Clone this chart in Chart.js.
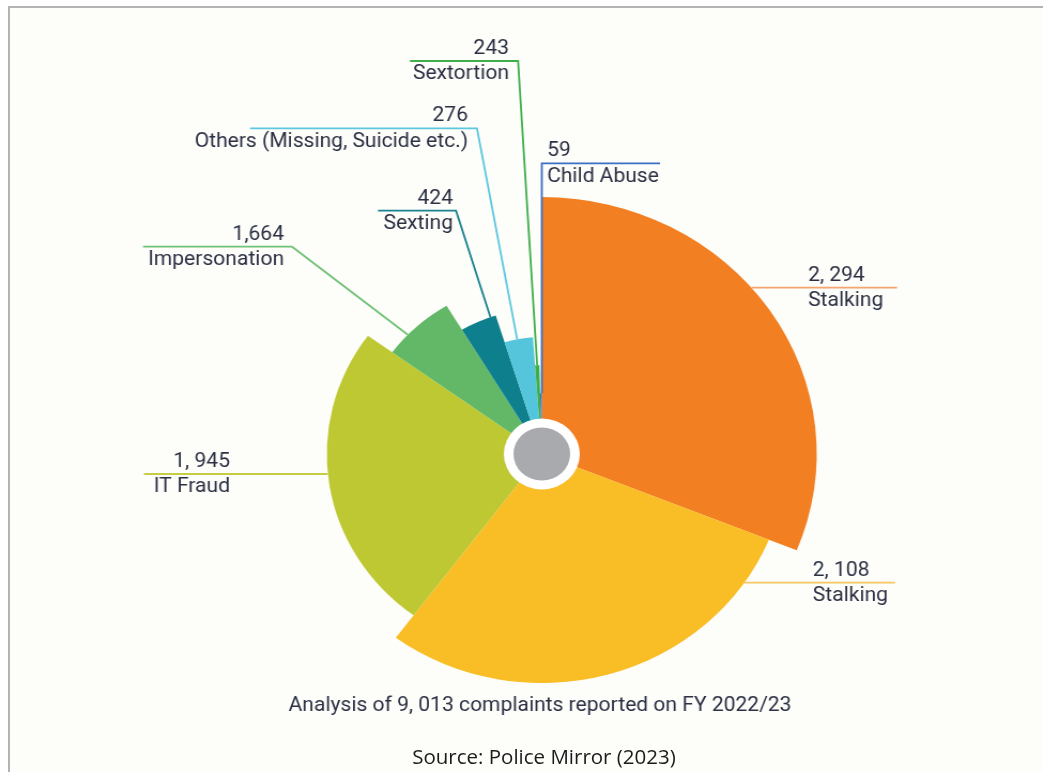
<!DOCTYPE html>
<html>
<head>
<meta charset="utf-8">
<script src="https://cdn.jsdelivr.net/npm/chart.js@4"></script>
<style>
  html, body { margin: 0; padding: 0; background: #fff; }
  body { width: 1043px; height: 772px; position: relative; overflow: hidden; }
  #frame {
    position: absolute; left: 8px; top: 6px; right: 0; bottom: 0;
    border-top: 2px solid #b3b3b3; border-left: 2px solid #b3b3b3;
    background: #fdfdf9;
  }
  #chart {
    position: absolute; left: 0; top: 0;
    width: 975px; height: 772px;
    transform: scaleX(1.0697); transform-origin: 0 0;
  }
  #source {
    position: absolute; left: 0; width: 1088px; top: 742px;
    text-align: center; font: 20.5px "Open Sans", sans-serif; color: #1b1b1b;
  }
</style>
</head>
<body>
<div id="frame"></div>
<canvas id="chart" width="975" height="772"></canvas>
<div id="source">Source: Police Mirror (2023)</div>

<script>
// complaints by type, FY 2022/23
const categories = ["Stalking", "Stalking", "IT Fraud", "Impersonation", "Sexting",
  "Others (Missing, Suicide etc.)", "Sextortion", "Child Abuse"];
const complaints = [2294, 2108, 1945, 1664, 424, 276, 243, 59];
const valueText = ["2, 294", "2, 108", "1, 945", "1,664", "424", "276", "243", "59"];
// slice length (% of the longest) and sweep (degrees) as drawn in the original
const sliceLength = [100, 89.1, 78.2, 67.3, 56.4, 45.5, 34.6, 23.7];
const sliceAngle = [112, 104.6, 89.4, 23, 13.7, 13.2, 2.6, 1.5];

const sliceColors = ["#f27f22", "#f9bd26", "#bdc832", "#62b867", "#0e7f8d", "#55c5db", "#3dae4a", "#3a6fc2"];
const lineColors = ["#f6a66c", "#f8c760", "#c5cd45", "#72c277", "#1a8290", "#5cc7df", "#3fae4b", "#3b6fc3"];

const textColor = "#2c3044";
const font = "19.7px Roboto, sans-serif";

// callout layout: where each label and its leader line sit
const callouts = [
  { i: 0, lineY: 287.7, farX: 838.6, edge: true, textX: 755.4, align: "left" },
  { i: 1, lineY: 582.7, farX: 836.7, edge: true, textX: 759.8, align: "left" },
  { i: 2, lineY: 474, farX: 134.6, edge: true, textX: 215, align: "right" },
  { i: 3, lineY: 246.7, farX: 133.7, elbowX: 273, at: 0.33, textX: 265.5, align: "right" },
  { i: 4, lineY: 210.7, farX: 353.4, elbowX: 426.3, at: 0.85, textX: 423.5, align: "right" },
  { i: 5, lineY: 128.3, farX: 233.7, elbowX: 445.9, at: 0.45, textX: 437.5, align: "right" },
  { i: 6, lineY: 61, farX: 383.3, elbowX: 484.3, at: 0.5, textX: 475.8, align: "right" },
  { i: 7, lineY: 163.3, farX: 617, elbowX: null, at: 1, textX: 511.4, align: "left" }
];

const calloutPlugin = {
  id: "callouts",
  afterLayout(chart) {
    const a = chart.chartArea;
    const r = chart.scales.r;
    r.xCenter = (a.left + a.right) / 2;
    r.yCenter = (a.top + a.bottom) / 2;
    r.drawingArea = Math.min(a.right - a.left, a.bottom - a.top) / 2;
  },
  afterDatasetsDraw(chart) {
    const ctx = chart.ctx;
    const arcs = chart.getDatasetMeta(0).data;
    const cx = chart.scales.r.xCenter, cy = chart.scales.r.yCenter;

    ctx.save();
    ctx.lineWidth = 1.8;
    callouts.forEach(c => {
      const arc = arcs[c.i];
      const R = arc.outerRadius;
      ctx.strokeStyle = lineColors[c.i];
      ctx.beginPath();
      ctx.moveTo(c.farX, c.lineY);
      if (c.edge) {
        const dx = Math.sqrt(R * R - (c.lineY - cy) * (c.lineY - cy));
        ctx.lineTo(c.farX > cx ? cx + dx : cx - dx, c.lineY);
      } else {
        const ang = arc.startAngle + c.at * (arc.endAngle - arc.startAngle);
        const px = cx + Math.cos(ang) * R, py = cy + Math.sin(ang) * R;
        ctx.lineTo(c.elbowX === null ? px : c.elbowX, c.lineY);
        ctx.lineTo(px, py);
      }
      ctx.stroke();

      ctx.fillStyle = textColor;
      ctx.font = font;
      ctx.textAlign = c.align;
      ctx.textBaseline = "middle";
      ctx.fillText(valueText[c.i], c.textX, c.lineY - 12);
      ctx.fillText(categories[c.i], c.textX, c.lineY + 13.5);
    });

    // hub
    ctx.fillStyle = "#ffffff";
    ctx.beginPath();
    ctx.arc(cx, cy, 35.5, 0, Math.PI * 2);
    ctx.fill();
    ctx.fillStyle = "#a9aaad";
    ctx.beginPath();
    ctx.arc(cx, cy, 26.5, 0, Math.PI * 2);
    ctx.fill();

    // caption
    const total = complaints.reduce((s, v) => s + v, 0);
    ctx.fillStyle = textColor;
    ctx.textAlign = "center";
    ctx.fillText("Analysis of " + total.toLocaleString("en-US").replace(",", ", ") +
      " complaints reported on FY 2022/23", 504.8, 706);
    ctx.restore();
  }
};

new Chart(document.getElementById("chart"), {
  type: "polarArea",
  data: {
    labels: categories,
    datasets: [{
      data: sliceLength,
      angle: sliceAngle,
      backgroundColor: sliceColors,
      borderWidth: 0
    }]
  },
  options: {
    responsive: false,
    animation: false,
    layout: { padding: { left: 249.5, right: 211.5, top: 197, bottom: 61 } },
    scales: {
      r: {
        min: 0,
        max: 100,
        ticks: { display: false },
        grid: { display: false },
        angleLines: { display: false },
        pointLabels: { display: false }
      }
    },
    plugins: {
      legend: { display: false },
      tooltip: { enabled: false }
    }
  },
  plugins: [calloutPlugin]
});
</script>
</body>
</html>
